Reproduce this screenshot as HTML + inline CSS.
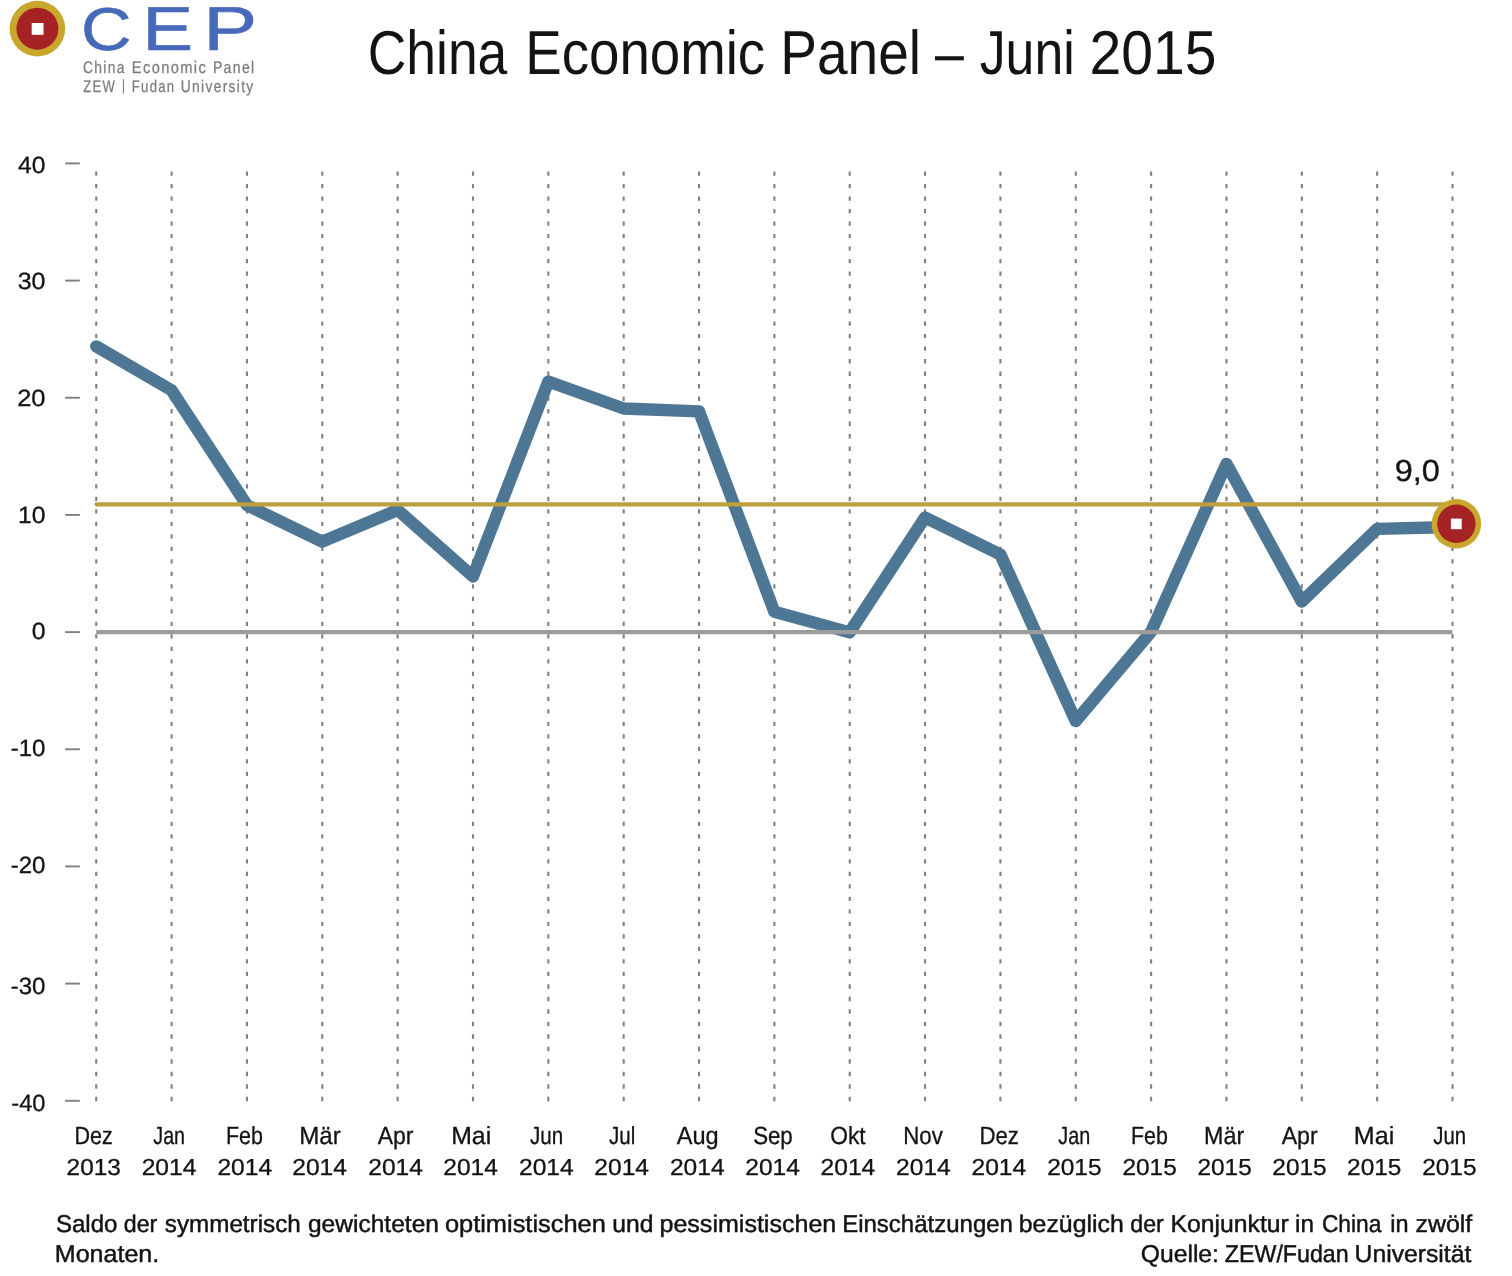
<!DOCTYPE html>
<html lang="de">
<head>
<meta charset="utf-8">
<title>China Economic Panel – Juni 2015</title>
<style>
html,body{margin:0;padding:0;background:#fff;}
body{width:1512px;height:1276px;overflow:hidden;}
svg{display:block;}
svg text{font-family:"Liberation Sans",sans-serif;text-rendering:geometricPrecision;}
</style>
</head>
<body>
<svg width="1512" height="1276" viewBox="0 0 1512 1276">
<rect width="1512" height="1276" fill="#ffffff"/>
<g stroke="#808080" stroke-width="2.1" stroke-dasharray="4.3 8.205" fill="none">
<line x1="96.25" y1="171.5" x2="96.25" y2="1101.2"/>
<line x1="171.60" y1="171.5" x2="171.60" y2="1101.2"/>
<line x1="246.94" y1="171.5" x2="246.94" y2="1101.2"/>
<line x1="322.29" y1="171.5" x2="322.29" y2="1101.2"/>
<line x1="397.64" y1="171.5" x2="397.64" y2="1101.2"/>
<line x1="472.99" y1="171.5" x2="472.99" y2="1101.2"/>
<line x1="548.33" y1="171.5" x2="548.33" y2="1101.2"/>
<line x1="623.68" y1="171.5" x2="623.68" y2="1101.2"/>
<line x1="699.03" y1="171.5" x2="699.03" y2="1101.2"/>
<line x1="774.38" y1="171.5" x2="774.38" y2="1101.2"/>
<line x1="849.72" y1="171.5" x2="849.72" y2="1101.2"/>
<line x1="925.07" y1="171.5" x2="925.07" y2="1101.2"/>
<line x1="1000.42" y1="171.5" x2="1000.42" y2="1101.2"/>
<line x1="1075.76" y1="171.5" x2="1075.76" y2="1101.2"/>
<line x1="1151.11" y1="171.5" x2="1151.11" y2="1101.2"/>
<line x1="1226.46" y1="171.5" x2="1226.46" y2="1101.2"/>
<line x1="1301.81" y1="171.5" x2="1301.81" y2="1101.2"/>
<line x1="1377.15" y1="171.5" x2="1377.15" y2="1101.2"/>
<line x1="1452.50" y1="171.5" x2="1452.50" y2="1101.2"/>
</g>
<g stroke="#7e7e7e" stroke-width="1.9" fill="none">
<line x1="65.2" y1="163.40" x2="79.8" y2="163.40"/>
<line x1="65.2" y1="280.58" x2="79.8" y2="280.58"/>
<line x1="65.2" y1="397.75" x2="79.8" y2="397.75"/>
<line x1="65.2" y1="514.93" x2="79.8" y2="514.93"/>
<line x1="65.2" y1="632.10" x2="79.8" y2="632.10"/>
<line x1="65.2" y1="749.27" x2="79.8" y2="749.27"/>
<line x1="65.2" y1="866.45" x2="79.8" y2="866.45"/>
<line x1="65.2" y1="983.62" x2="79.8" y2="983.62"/>
<line x1="65.2" y1="1100.80" x2="79.8" y2="1100.80"/>
</g>
<polyline points="96.25,346.40 171.60,390.30 246.94,505.20 322.29,541.70 397.64,510.00 472.99,576.50 548.33,381.50 623.68,408.50 699.03,411.40 774.38,611.80 849.72,632.40 925.07,517.40 1000.42,554.60 1075.76,721.10 1151.11,631.80 1226.46,463.80 1301.81,601.70 1377.15,528.90 1452.50,527.00" fill="none" stroke="#4e7795" stroke-width="12.3" stroke-linecap="round" stroke-linejoin="round"/>
<line x1="96.2" y1="632.2" x2="1452.5" y2="632.2" stroke="#9c9c9c" stroke-width="4.2"/>
<line x1="96.6" y1="504.3" x2="1452.5" y2="504.3" stroke="#bd9f3e" stroke-width="4.2" stroke-linecap="round"/>
<circle cx="1456.4" cy="523.8" r="24.7" fill="#c9a62c"/>
<circle cx="1456.4" cy="523.8" r="19.2" fill="#a52325"/>
<rect x="1450.9" y="518.6" width="10.8" height="10.6" fill="#ffffff"/>
<circle cx="37.4" cy="28.6" r="27.8" fill="#c9a62c"/>
<circle cx="37.4" cy="28.7" r="21" fill="#a52325"/>
<rect x="31.7" y="23" width="11.8" height="11.8" fill="#ffffff"/>
<text font-size="16.8" fill="#7b7b7b" stroke="#7b7b7b" stroke-width="0.25" letter-spacing="1.6"><tspan x="82.95" y="73.00" textLength="42.77" lengthAdjust="spacingAndGlyphs">China</tspan> <tspan x="131.76" y="73.00" textLength="75.45" lengthAdjust="spacingAndGlyphs">Economic</tspan> <tspan x="212.91" y="73.00" textLength="42.66" lengthAdjust="spacingAndGlyphs">Panel</tspan></text>
<text font-size="16.8" fill="#7b7b7b" stroke="#7b7b7b" stroke-width="0.25" letter-spacing="1.6"><tspan x="83.19" y="91.70" textLength="32.84" lengthAdjust="spacingAndGlyphs">ZEW</tspan> <tspan x="122.10" y="90.20" textLength="2.91" lengthAdjust="spacingAndGlyphs" font-size="15" stroke-width="0.2" letter-spacing="0.0">|</tspan> <tspan x="131.87" y="91.70" textLength="43.41" lengthAdjust="spacingAndGlyphs">Fudan</tspan> <tspan x="180.84" y="91.70" textLength="73.77" lengthAdjust="spacingAndGlyphs">University</tspan></text>
<text font-size="60.5" fill="#4769ba" stroke="#4769ba" stroke-width="0.6"><tspan x="80.97" y="49.70" textLength="50.51" lengthAdjust="spacingAndGlyphs">C</tspan><tspan x="142.64" y="50.00" textLength="50.58" lengthAdjust="spacingAndGlyphs" font-size="62.2">E</tspan><tspan x="203.27" y="50.00" textLength="53.93" lengthAdjust="spacingAndGlyphs" font-size="62.2">P</tspan></text>
<text font-size="62" fill="#131313"><tspan x="367.69" y="74.20" textLength="139.67" lengthAdjust="spacingAndGlyphs">China</tspan> <tspan x="525.23" y="74.20" textLength="239.92" lengthAdjust="spacingAndGlyphs">Economic</tspan> <tspan x="780.20" y="74.20" textLength="140.83" lengthAdjust="spacingAndGlyphs">Panel</tspan> <tspan x="934.90" y="74.20" textLength="28.87" lengthAdjust="spacingAndGlyphs">–</tspan> <tspan x="979.69" y="74.20" textLength="95.02" lengthAdjust="spacingAndGlyphs">Juni</tspan> <tspan x="1089.42" y="74.20" textLength="126.99" lengthAdjust="spacingAndGlyphs">2015</tspan></text>
<text font-size="23.5" fill="#131313" stroke="#131313" stroke-width="0.3"><tspan x="18.07" y="172.70" textLength="27.38" lengthAdjust="spacingAndGlyphs">40</tspan></text>
<text font-size="23.5" fill="#131313" stroke="#131313" stroke-width="0.3"><tspan x="17.68" y="288.98" textLength="27.78" lengthAdjust="spacingAndGlyphs">30</tspan></text>
<text font-size="23.5" fill="#131313" stroke="#131313" stroke-width="0.3"><tspan x="17.17" y="406.15" textLength="28.30" lengthAdjust="spacingAndGlyphs">20</tspan></text>
<text font-size="23.5" fill="#131313" stroke="#131313" stroke-width="0.3"><tspan x="18.02" y="523.33" textLength="27.44" lengthAdjust="spacingAndGlyphs">10</tspan></text>
<text font-size="23.5" fill="#131313" stroke="#131313" stroke-width="0.3"><tspan x="31.68" y="638.60" textLength="13.77" lengthAdjust="spacingAndGlyphs">0</tspan></text>
<text font-size="23.5" fill="#131313" stroke="#131313" stroke-width="0.3"><tspan x="10.70" y="755.67" textLength="34.74" lengthAdjust="spacingAndGlyphs">-10</tspan></text>
<text font-size="23.5" fill="#131313" stroke="#131313" stroke-width="0.3"><tspan x="10.70" y="873.05" textLength="34.74" lengthAdjust="spacingAndGlyphs">-20</tspan></text>
<text font-size="23.5" fill="#131313" stroke="#131313" stroke-width="0.3"><tspan x="10.70" y="993.92" textLength="34.74" lengthAdjust="spacingAndGlyphs">-30</tspan></text>
<text font-size="23.5" fill="#131313" stroke="#131313" stroke-width="0.3"><tspan x="11.31" y="1110.50" textLength="34.12" lengthAdjust="spacingAndGlyphs">-40</tspan></text>
<text font-size="24.8" fill="#131313" stroke="#131313" stroke-width="0.3"><tspan x="74.55" y="1144.30" textLength="38.23" lengthAdjust="spacingAndGlyphs">Dez</tspan> <tspan x="66.62" y="1175.40" textLength="54.21" lengthAdjust="spacingAndGlyphs" font-size="23.1">2013</tspan></text>
<text font-size="24.8" fill="#131313" stroke="#131313" stroke-width="0.3"><tspan x="153.31" y="1144.30" textLength="31.78" lengthAdjust="spacingAndGlyphs">Jan</tspan> <tspan x="141.71" y="1175.40" textLength="54.64" lengthAdjust="spacingAndGlyphs" font-size="23.1">2014</tspan></text>
<text font-size="24.8" fill="#131313" stroke="#131313" stroke-width="0.3"><tspan x="225.95" y="1144.30" textLength="36.99" lengthAdjust="spacingAndGlyphs">Feb</tspan> <tspan x="217.41" y="1175.40" textLength="54.64" lengthAdjust="spacingAndGlyphs" font-size="23.1">2014</tspan></text>
<text font-size="24.8" fill="#131313" stroke="#131313" stroke-width="0.3"><tspan x="299.26" y="1144.30" textLength="41.61" lengthAdjust="spacingAndGlyphs">Mär</tspan> <tspan x="292.31" y="1175.40" textLength="54.64" lengthAdjust="spacingAndGlyphs" font-size="23.1">2014</tspan></text>
<text font-size="24.8" fill="#131313" stroke="#131313" stroke-width="0.3"><tspan x="377.64" y="1144.30" textLength="35.83" lengthAdjust="spacingAndGlyphs">Apr</tspan> <tspan x="368.31" y="1175.40" textLength="54.64" lengthAdjust="spacingAndGlyphs" font-size="23.1">2014</tspan></text>
<text font-size="24.8" fill="#131313" stroke="#131313" stroke-width="0.3"><tspan x="451.21" y="1144.30" textLength="39.97" lengthAdjust="spacingAndGlyphs">Mai</tspan> <tspan x="443.31" y="1175.40" textLength="54.64" lengthAdjust="spacingAndGlyphs" font-size="23.1">2014</tspan></text>
<text font-size="24.8" fill="#131313" stroke="#131313" stroke-width="0.3"><tspan x="530.10" y="1144.30" textLength="33.13" lengthAdjust="spacingAndGlyphs">Jun</tspan> <tspan x="519.01" y="1175.40" textLength="54.64" lengthAdjust="spacingAndGlyphs" font-size="23.1">2014</tspan></text>
<text font-size="24.8" fill="#131313" stroke="#131313" stroke-width="0.3"><tspan x="609.10" y="1144.30" textLength="26.22" lengthAdjust="spacingAndGlyphs">Jul</tspan> <tspan x="594.36" y="1175.40" textLength="54.64" lengthAdjust="spacingAndGlyphs" font-size="23.1">2014</tspan></text>
<text font-size="24.8" fill="#131313" stroke="#131313" stroke-width="0.3"><tspan x="676.74" y="1144.30" textLength="41.94" lengthAdjust="spacingAndGlyphs">Aug</tspan> <tspan x="669.91" y="1175.40" textLength="54.64" lengthAdjust="spacingAndGlyphs" font-size="23.1">2014</tspan></text>
<text font-size="24.8" fill="#131313" stroke="#131313" stroke-width="0.3"><tspan x="753.14" y="1144.30" textLength="39.63" lengthAdjust="spacingAndGlyphs">Sep</tspan> <tspan x="745.31" y="1175.40" textLength="54.64" lengthAdjust="spacingAndGlyphs" font-size="23.1">2014</tspan></text>
<text font-size="24.8" fill="#131313" stroke="#131313" stroke-width="0.3"><tspan x="830.27" y="1144.30" textLength="35.41" lengthAdjust="spacingAndGlyphs">Okt</tspan> <tspan x="820.61" y="1175.40" textLength="54.64" lengthAdjust="spacingAndGlyphs" font-size="23.1">2014</tspan></text>
<text font-size="24.8" fill="#131313" stroke="#131313" stroke-width="0.3"><tspan x="903.20" y="1144.30" textLength="39.57" lengthAdjust="spacingAndGlyphs">Nov</tspan> <tspan x="896.11" y="1175.40" textLength="54.64" lengthAdjust="spacingAndGlyphs" font-size="23.1">2014</tspan></text>
<text font-size="24.8" fill="#131313" stroke="#131313" stroke-width="0.3"><tspan x="979.40" y="1144.30" textLength="39.40" lengthAdjust="spacingAndGlyphs">Dez</tspan> <tspan x="971.51" y="1175.40" textLength="54.64" lengthAdjust="spacingAndGlyphs" font-size="23.1">2014</tspan></text>
<text font-size="24.8" fill="#131313" stroke="#131313" stroke-width="0.3"><tspan x="1058.31" y="1144.30" textLength="31.88" lengthAdjust="spacingAndGlyphs">Jan</tspan> <tspan x="1047.16" y="1175.40" textLength="54.32" lengthAdjust="spacingAndGlyphs" font-size="23.1">2015</tspan></text>
<text font-size="24.8" fill="#131313" stroke="#131313" stroke-width="0.3"><tspan x="1131.06" y="1144.30" textLength="36.88" lengthAdjust="spacingAndGlyphs">Feb</tspan> <tspan x="1122.46" y="1175.40" textLength="54.32" lengthAdjust="spacingAndGlyphs" font-size="23.1">2015</tspan></text>
<text font-size="24.8" fill="#131313" stroke="#131313" stroke-width="0.3"><tspan x="1204.12" y="1144.30" textLength="40.15" lengthAdjust="spacingAndGlyphs">Mär</tspan> <tspan x="1197.46" y="1175.40" textLength="54.32" lengthAdjust="spacingAndGlyphs" font-size="23.1">2015</tspan></text>
<text font-size="24.8" fill="#131313" stroke="#131313" stroke-width="0.3"><tspan x="1281.64" y="1144.30" textLength="36.03" lengthAdjust="spacingAndGlyphs">Apr</tspan> <tspan x="1272.36" y="1175.40" textLength="54.32" lengthAdjust="spacingAndGlyphs" font-size="23.1">2015</tspan></text>
<text font-size="24.8" fill="#131313" stroke="#131313" stroke-width="0.3"><tspan x="1353.89" y="1144.30" textLength="40.41" lengthAdjust="spacingAndGlyphs">Mai</tspan> <tspan x="1347.06" y="1175.40" textLength="54.32" lengthAdjust="spacingAndGlyphs" font-size="23.1">2015</tspan></text>
<text font-size="24.8" fill="#131313" stroke="#131313" stroke-width="0.3"><tspan x="1433.31" y="1144.30" textLength="32.81" lengthAdjust="spacingAndGlyphs">Jun</tspan> <tspan x="1422.16" y="1175.40" textLength="54.32" lengthAdjust="spacingAndGlyphs" font-size="23.1">2015</tspan></text>
<text font-size="30.5" fill="#131313" stroke="#131313" stroke-width="0.3"><tspan x="1394.74" y="480.90" textLength="45.21" lengthAdjust="spacingAndGlyphs">9,0</tspan></text>
<text font-size="24.3" fill="#131313" stroke="#131313" stroke-width="0.45"><tspan x="55.97" y="1232.10" textLength="61.48" lengthAdjust="spacingAndGlyphs">Saldo</tspan> <tspan x="123.79" y="1232.10" textLength="33.51" lengthAdjust="spacingAndGlyphs">der</tspan> <tspan x="164.85" y="1232.10" textLength="135.89" lengthAdjust="spacingAndGlyphs">symmetrisch</tspan> <tspan x="307.96" y="1232.10" textLength="130.99" lengthAdjust="spacingAndGlyphs">gewichteten</tspan> <tspan x="444.94" y="1232.10" textLength="160.85" lengthAdjust="spacingAndGlyphs">optimistischen</tspan> <tspan x="612.19" y="1232.10" textLength="41.17" lengthAdjust="spacingAndGlyphs">und</tspan> <tspan x="659.47" y="1232.10" textLength="176.81" lengthAdjust="spacingAndGlyphs">pessimistischen</tspan> <tspan x="842.15" y="1232.10" textLength="170.78" lengthAdjust="spacingAndGlyphs">Einschätzungen</tspan> <tspan x="1018.78" y="1232.10" textLength="104.99" lengthAdjust="spacingAndGlyphs">bezüglich</tspan> <tspan x="1130.29" y="1232.10" textLength="33.51" lengthAdjust="spacingAndGlyphs">der</tspan> <tspan x="1170.50" y="1232.10" textLength="118.30" lengthAdjust="spacingAndGlyphs">Konjunktur</tspan> <tspan x="1295.00" y="1232.10" textLength="18.94" lengthAdjust="spacingAndGlyphs">in</tspan> <tspan x="1321.94" y="1232.10" textLength="59.40" lengthAdjust="spacingAndGlyphs">China</tspan> <tspan x="1390.35" y="1232.10" textLength="18.25" lengthAdjust="spacingAndGlyphs">in</tspan> <tspan x="1415.55" y="1232.10" textLength="56.73" lengthAdjust="spacingAndGlyphs">zwölf</tspan> <tspan x="54.77" y="1262.20" textLength="104.46" lengthAdjust="spacingAndGlyphs">Monaten.</tspan></text>
<text font-size="24.3" fill="#131313" stroke="#131313" stroke-width="0.45"><tspan x="1140.67" y="1262.20" textLength="78.33" lengthAdjust="spacingAndGlyphs">Quelle:</tspan> <tspan x="1224.79" y="1262.20" textLength="123.90" lengthAdjust="spacingAndGlyphs">ZEW/Fudan</tspan> <tspan x="1354.58" y="1262.20" textLength="116.70" lengthAdjust="spacingAndGlyphs">Universität</tspan></text>
</svg>
</body>
</html>
